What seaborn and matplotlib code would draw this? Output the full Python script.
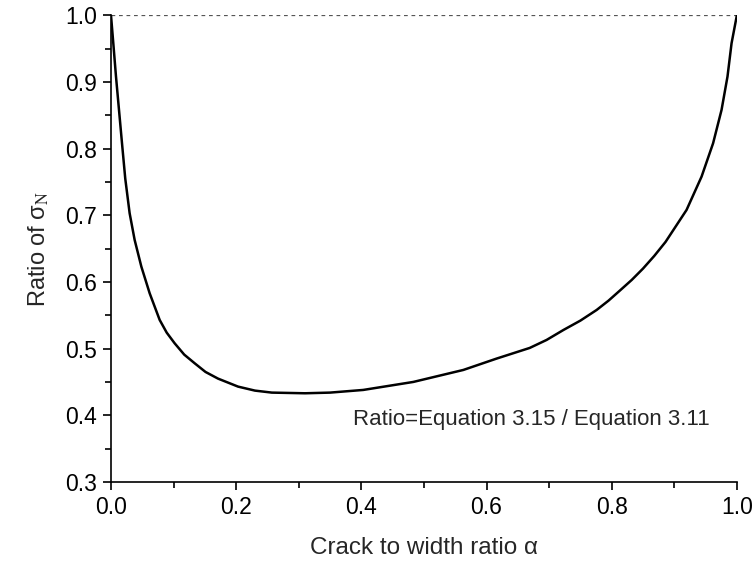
import numpy as np
import matplotlib
matplotlib.use("Agg")
import matplotlib.pyplot as plt
from matplotlib.ticker import MultipleLocator, FormatStrFormatter
import seaborn as sns

# Curve values
alpha = [0.0, 0.0037, 0.008, 0.0128, 0.0176, 0.0228, 0.0298, 0.0378, 0.0485,
         0.0618, 0.0778, 0.089, 0.1017, 0.117, 0.1337, 0.151, 0.171, 0.203,
         0.23, 0.257, 0.31, 0.35, 0.403, 0.483, 0.563, 0.616, 0.669, 0.696,
         0.723, 0.75, 0.776, 0.795, 0.813, 0.832, 0.850, 0.868, 0.886,
         0.9196, 0.9436, 0.962, 0.9755, 0.985, 0.9915, 1.0]
ratio = [1.0, 0.958, 0.908, 0.858, 0.808, 0.755, 0.703, 0.663, 0.623,
         0.583, 0.543, 0.524, 0.508, 0.491, 0.478, 0.465, 0.455, 0.443,
         0.437, 0.434, 0.433, 0.434, 0.438, 0.450, 0.468, 0.485, 0.501, 0.513,
         0.528, 0.542, 0.558, 0.572, 0.587, 0.603, 0.620, 0.639, 0.660,
         0.708, 0.758, 0.808, 0.858, 0.908, 0.958, 1.0]

note = 'Ratio=Equation 3.15 / Equation 3.11'

sns.set_style("ticks")
plt.rcParams['font.family'] = ['Liberation Sans', 'DejaVu Sans']
plt.rcParams['mathtext.fontset'] = 'stix'

fig = plt.figure(figsize=(7.55, 5.65), dpi=100)
ax = fig.add_axes([0.147, 0.147, 0.829, 0.826])

sns.lineplot(x=alpha, y=ratio, sort=False, color='black', linewidth=1.8, ax=ax)
ax.lines[0].set_solid_joinstyle('round')
ax.axhline(1.0, color='#555555', linestyle=(0, (3, 3)), linewidth=0.9, zorder=0)

ax.set_xlim(0, 1.0)
ax.set_ylim(0.3, 1.0)
ax.xaxis.set_major_locator(MultipleLocator(0.2))
ax.xaxis.set_minor_locator(MultipleLocator(0.1))
ax.yaxis.set_major_locator(MultipleLocator(0.1))
ax.yaxis.set_minor_locator(MultipleLocator(0.05))
ax.xaxis.set_major_formatter(FormatStrFormatter('%.1f'))
ax.yaxis.set_major_formatter(FormatStrFormatter('%.1f'))

sns.despine(ax=ax)
for s in ['left', 'bottom']:
    ax.spines[s].set_linewidth(1.2)
    ax.spines[s].set_color('black')
ax.tick_params(which='major', direction='out', length=6, width=1.2,
               labelsize=16.5, colors='black', pad=4)
ax.tick_params(which='minor', direction='out', length=4, width=1.2, colors='black')

ax.set_xlabel('Crack to width ratio α', fontsize=17.5, labelpad=13)
ax.set_ylabel(r'Ratio of σ$_{\rm N}$', fontsize=17, labelpad=10)

ax.text(0.957, 0.393, note, fontsize=16, ha='right', va='center')

fig.savefig('out.png', dpi=100)
